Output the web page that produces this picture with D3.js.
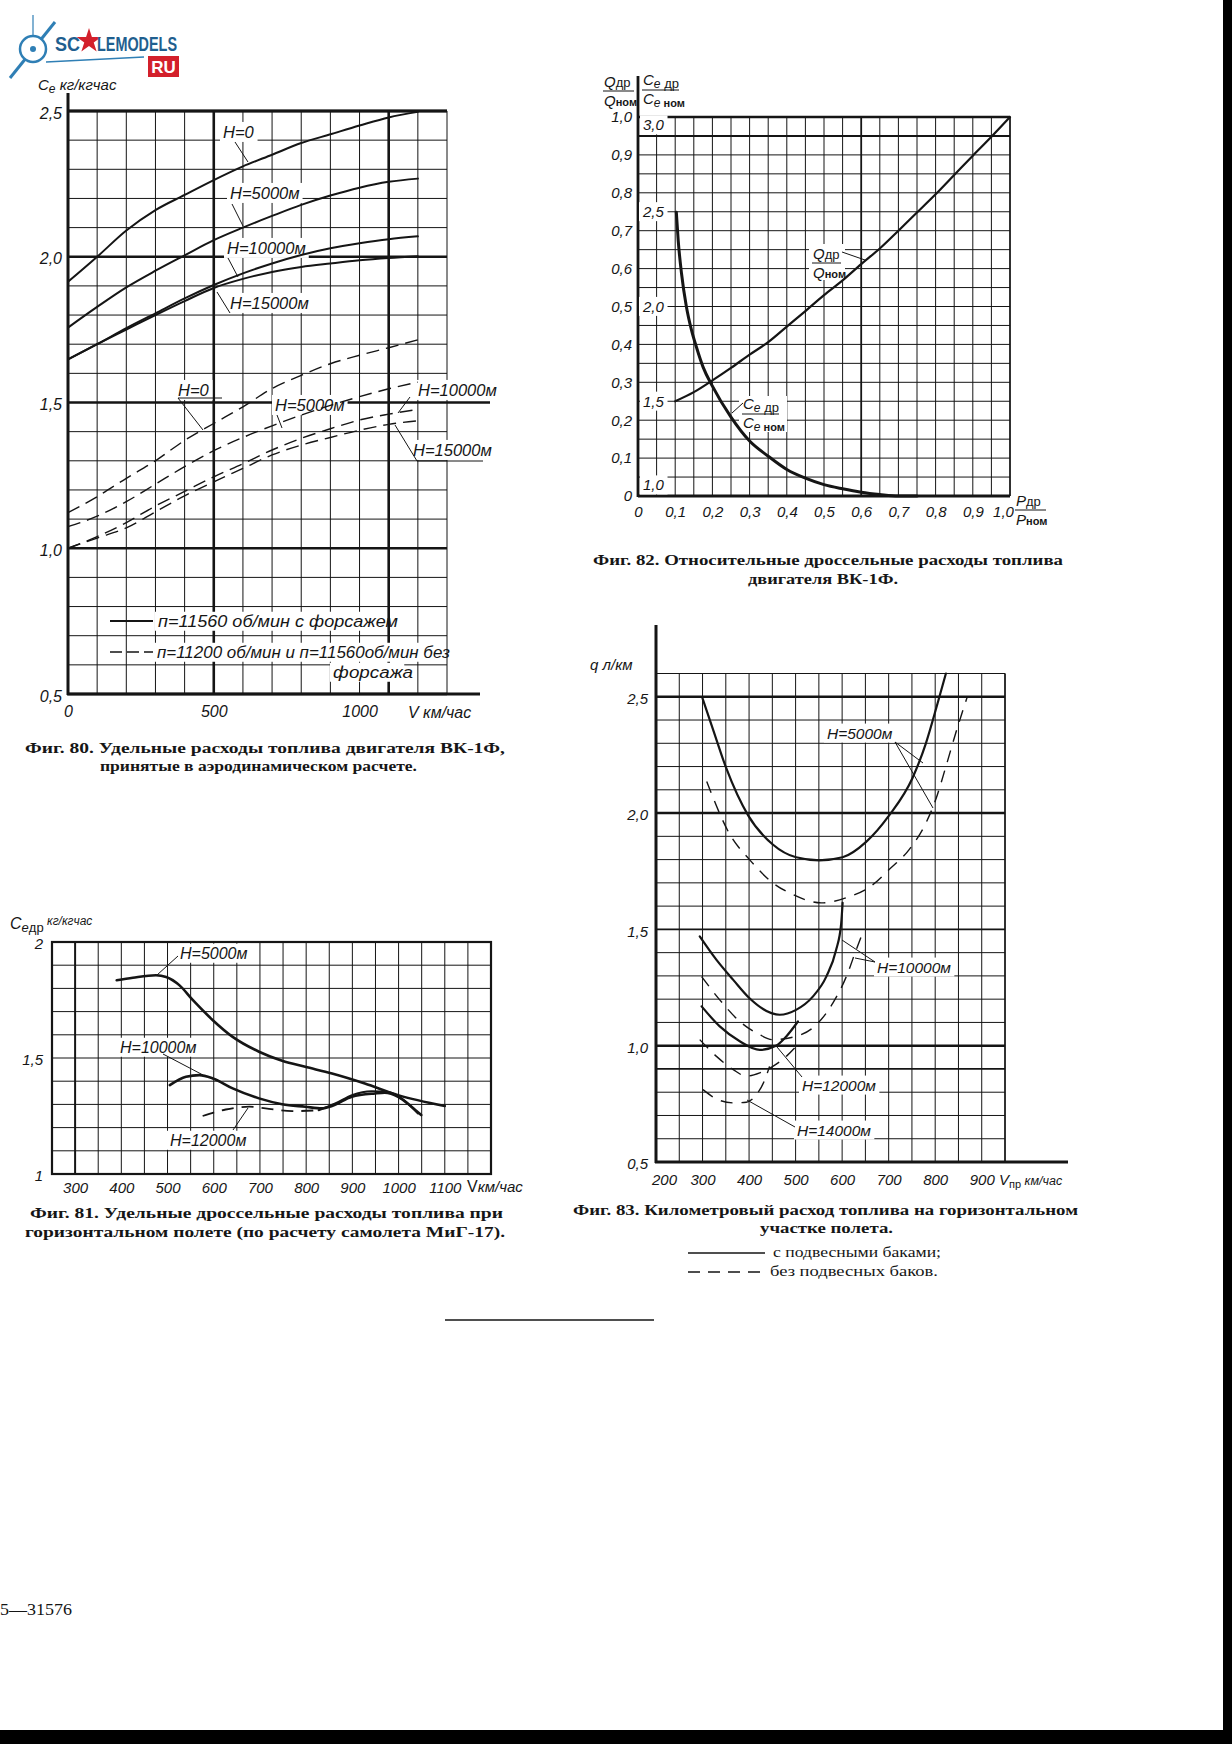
<!DOCTYPE html>
<html lang="ru"><head><meta charset="utf-8">
<script src="https://cdn.jsdelivr.net/npm/d3@7/dist/d3.min.js"></script>
<style>
html,body{margin:0;padding:0;background:#fff;}
svg{display:block;}
.lbl{font-family:"Liberation Sans","DejaVu Sans",Arial,sans-serif;font-style:italic;fill:#161616;}
.up{font-style:normal;}
.cap{font-family:"Liberation Serif","DejaVu Serif",serif;font-weight:bold;fill:#161616;}
</style></head>
<body>
<svg id="page" width="1232" height="1744" viewBox="0 0 1232 1744"></svg>
<script>
// ================= DATA =================
// Fig. 80 — specific fuel consumption vs speed
const f80Speeds      = [0,100,200,300,400,500,600,700,800,900,1000,1100,1200];
const f80SolidH0     = [1.914,2.0,2.09,2.16,2.212,2.263,2.31,2.35,2.39,2.42,2.45,2.478,2.497];
const f80SolidH5000  = [1.757,1.828,1.895,1.952,2.005,2.057,2.1,2.14,2.178,2.21,2.237,2.257,2.268];
const f80SolidH10000 = [1.648,1.70,1.755,1.806,1.857,1.903,1.943,1.977,2.006,2.029,2.046,2.06,2.07];
const f80SolidH15000 = [1.648,1.70,1.75,1.80,1.848,1.893,1.924,1.948,1.965,1.977,1.988,1.996,2.002];
const f80DashH0      = [1.122,1.177,1.24,1.30,1.37,1.428,1.485,1.548,1.593,1.633,1.662,1.688,1.715];
const f80DashH5000   = [1.074,1.11,1.16,1.22,1.28,1.335,1.38,1.42,1.457,1.49,1.52,1.547,1.57];
const f80DashH10000  = [1.0,1.04,1.088,1.145,1.195,1.245,1.29,1.337,1.377,1.41,1.44,1.46,1.476];
const f80DashH15000  = [1.0,1.035,1.07,1.125,1.18,1.228,1.274,1.32,1.354,1.38,1.405,1.425,1.437];
const f80YTicks = [0.5,1.0,1.5,2.0,2.5];
const f80XTicks = [0,500,1000];
const f80Legend = ["п=11560 об/мин  с форсажем","п=11200 об/мин и п=11560об/мин  без","форсажа"];

// Fig. 82 — relative throttle consumption
const f82QRatioX  = [0.1,0.15,0.2,0.25,0.3,0.35,0.4,0.45,0.5,0.55,0.6,0.65,0.7,0.75,0.8,0.85,0.9,0.95,1.0];
const f82QRatio   = [0.25,0.274,0.305,0.338,0.373,0.406,0.447,0.488,0.53,0.569,0.612,0.653,0.7,0.748,0.796,0.847,0.898,0.948,1.0];
const f82CeRatioX = [0.103,0.108,0.117,0.13,0.144,0.157,0.175,0.2,0.25,0.3,0.35,0.4,0.45,0.5,0.55,0.6,0.65,0.7,0.75];
const f82CeRatio  = [2.498,2.35,2.174,2.0,1.874,1.786,1.68,1.58,1.416,1.29,1.21,1.14,1.094,1.06,1.038,1.02,1.008,1.0,1.0];
const f82CeTicks  = [1.0,1.5,2.0,2.5,3.0];

// Fig. 81 — specific throttle consumption in level flight (MiG-17)
const f81H5000X  = [390,425,475,497,526,555,598,641,698,748,798,856,927,999,1100];
const f81H5000   = [1.835,1.846,1.857,1.849,1.813,1.749,1.663,1.591,1.527,1.488,1.462,1.433,1.39,1.34,1.293];
const f81H10000X = [505,540,569,598,641,698,748,798,834,856,899,949,970,999,1028,1049];
const f81H10000  = [1.383,1.419,1.426,1.412,1.369,1.326,1.301,1.29,1.283,1.293,1.333,1.347,1.35,1.333,1.29,1.254];
const f81H12000X = [576,626,677,712,770,827,863,899,942,978,1006,1042];
const f81H12000  = [1.25,1.278,1.29,1.283,1.271,1.275,1.304,1.34,1.357,1.354,1.326,1.261];
const f81XTicks  = [300,400,500,600,700,800,900,1000,1100];
const f81YTicks  = [1,1.5,2];

// Fig. 83 — fuel consumption per km
const f83H5000SolidX  = [300,323,351,398,451,501,551,601,651,701,751,780,805,823];
const f83H5000Solid   = [2.493,2.357,2.193,1.99,1.865,1.81,1.797,1.81,1.875,1.99,2.15,2.3,2.471,2.6];
const f83H5000DashX   = [309,359,401,451,494,555,609,662,701,744,780,801,823,844,869];
const f83H5000Dash    = [2.136,1.907,1.8,1.7,1.65,1.614,1.636,1.686,1.757,1.843,1.957,2.057,2.2,2.343,2.5];
const f83H10000SolidX = [294,330,366,401,448,466,501,537,566,587,598,601];
const f83H10000Solid  = [1.47,1.369,1.283,1.204,1.14,1.133,1.154,1.211,1.297,1.411,1.526,1.614];
const f83H10000DashX  = [298,337,380,423,451,501,548,580,609,630,641];
const f83H10000Dash   = [1.297,1.197,1.104,1.047,1.026,1.04,1.097,1.183,1.297,1.411,1.469];
const f83H12000SolidX = [298,337,380,423,458,480,505];
const f83H12000Solid  = [1.169,1.083,1.019,0.982,1.0,1.04,1.104];
const f83H12000DashX  = [294,330,366,394,423,451,480,501];
const f83H12000Dash   = [1.026,0.954,0.897,0.869,0.883,0.911,0.954,0.997];
const f83H14000DashX  = [301,330,366,394,416,434,444];
const f83H14000Dash   = [0.811,0.771,0.754,0.757,0.79,0.854,0.911];
const f83XTicks = [200,300,400,500,600,700,800,900];
const f83YTicks = [0.5,1.0,1.5,2.0,2.5];

// ================= DRAWING =================
const INK = "#151515";
const svg = d3.select("#page");
svg.append("rect").attr("width",1232).attr("height",1744).attr("fill","#fff");
const c1 = d => d3.format(".1f")(d).replace(".", ",");
const isHalf = d => Math.abs(d*2 - Math.round(d*2)) < 1e-6;

function styleAxis(sel, size) {
  sel.select(".domain").remove();
  sel.attr("font-family", null).attr("font-size", null);
  sel.selectAll("text").attr("class","lbl").style("font-size", size + "px");
}
function hline(g, x1, x2, y, w) {
  g.append("line").attr("x1",x1).attr("x2",x2).attr("y1",y).attr("y2",y).attr("stroke",INK).attr("stroke-width",w);
}
function vline(g, x, y1, y2, w) {
  g.append("line").attr("x1",x).attr("x2",x).attr("y1",y1).attr("y2",y2).attr("stroke",INK).attr("stroke-width",w);
}
function leader(g, pts) {
  g.append("polyline").attr("points", pts.map(p => p.join(",")).join(" "))
   .attr("fill","none").attr("stroke",INK).attr("stroke-width",1);
}
function lbl(g, x, cy, txt, size, bg, anchor) {
  size = size || 16;
  const t = g.append("text").attr("class","lbl").attr("x",x).attr("y",cy + size*0.36)
    .attr("text-anchor", anchor || "start").style("font-size", size + "px").text(txt);
  if (bg !== false) {
    const b = t.node().getBBox();
    g.insert("rect", () => t.node()).attr("x",b.x-3).attr("y",b.y-1).attr("width",b.width+6).attr("height",b.height+2).attr("fill","#fff");
  }
  return t;
}
function curve(g, xs, ys, xS, yS, w, dash) {
  const line = d3.line().x((d,i) => xS(xs[i])).y(d => yS(d)).curve(d3.curveMonotoneX);
  g.append("path").datum(ys).attr("d", line).attr("fill","none").attr("stroke",INK)
    .attr("stroke-width", w).attr("stroke-dasharray", dash || null)
    .attr("stroke-linejoin","round").attr("stroke-linecap", dash ? "butt" : "round");
}
function caption(x, y, txt, len) {
  svg.append("text").attr("class","cap").attr("x",x).attr("y",y).style("font-size","15.5px")
    .attr("textLength",len).attr("lengthAdjust","spacingAndGlyphs").text(txt);
}
// italic C with subscript e, then optional upright part
function ceText(g, x0, y0, size, tail, tailSize) {
  const t = g.append("text").attr("class","lbl").attr("x",x0).attr("y",y0).style("font-size",size+"px");
  t.append("tspan").text("C");
  t.append("tspan").attr("dy",3).style("font-size",(size-3)+"px").text("е");
  t.append("tspan").attr("class","up").style("font-size",tailSize+"px").text(tail);
  return t;
}

// ---------- Logo (watermark) ----------
{
  const g = svg.append("g");
  const blue = "#2f7fb5";
  g.append("line").attr("x1",10).attr("y1",78).attr("x2",55).attr("y2",22).attr("stroke",blue).attr("stroke-width",3);
  g.append("line").attr("x1",33).attr("y1",15).attr("x2",33).attr("y2",36).attr("stroke",blue).attr("stroke-width",1.2);
  g.append("circle").attr("cx",33).attr("cy",49).attr("r",13).attr("fill","#fff").attr("stroke",blue).attr("stroke-width",2.5);
  g.append("circle").attr("cx",33).attr("cy",49).attr("r",3).attr("fill",blue);
  g.append("line").attr("x1",46).attr("y1",62).attr("x2",144).attr("y2",57).attr("stroke",blue).attr("stroke-width",1.5);
  const fam = "'Liberation Sans',Arial,sans-serif";
  g.append("text").attr("x",55).attr("y",51).attr("fill","#1f5f8f").style("font-family",fam)
    .style("font-weight","bold").style("font-size","21px").attr("textLength",25).attr("lengthAdjust","spacingAndGlyphs").text("SC");
  g.append("path").attr("d", d3.symbol(d3.symbolStar, 190)()).attr("transform","translate(89,41)").attr("fill","#d3202b");
  g.append("text").attr("x",97).attr("y",51).attr("fill","#1f5f8f").style("font-family",fam)
    .style("font-weight","bold").style("font-size","21px").attr("textLength",80).attr("lengthAdjust","spacingAndGlyphs").text("LEMODELS");
  g.append("rect").attr("x",148).attr("y",56).attr("width",31).attr("height",21).attr("fill","#d3202b");
  g.append("text").attr("x",163.5).attr("y",73).attr("text-anchor","middle").attr("fill","#fff")
    .style("font-family",fam).style("font-weight","bold").style("font-size","17px").text("RU");
}

// ---------- Fig. 80 ----------
{
  const x = d3.scaleLinear().domain([0,1300]).range([68,447]);
  const y = d3.scaleLinear().domain([0.5,2.5]).range([694,111]);
  const gG = svg.append("g"), gL = svg.append("g"), gC = svg.append("g");
  gG.selectAll(".v").data(x.ticks(13)).join("line").attr("class","v")
    .attr("x1",d=>x(d)).attr("x2",d=>x(d)).attr("y1",y(0.5)).attr("y2",y(2.5))
    .attr("stroke",INK).attr("stroke-width",d => (d===500||d===1100) ? 2.6 : 1);
  gG.selectAll(".h").data(y.ticks(20)).join("line").attr("class","h")
    .attr("x1",x(0)).attr("x2",d => Math.abs(d-1.5)<1e-6 ? 490 : x(1300))
    .attr("y1",d=>y(d)).attr("y2",d=>y(d))
    .attr("stroke",INK).attr("stroke-width",d => isHalf(d) ? 2.4 : 1);
  vline(gG, x(0), y(0.5)+1, 93, 3);
  hline(gG, x(0)-1, 480, y(0.5), 3);
  hline(gG, x(0), x(1300), y(2.5), 3);
  gG.append("g").attr("transform",`translate(${x(0)},2)`)
    .call(d3.axisLeft(y).tickValues(f80YTicks).tickFormat(c1).tickSize(0).tickPadding(6)).call(s=>styleAxis(s,16));
  gG.append("g").attr("transform",`translate(0,${y(0.5)})`)
    .call(d3.axisBottom(x).tickValues(f80XTicks).tickFormat(d3.format("d")).tickSize(0).tickPadding(12)).call(s=>styleAxis(s,16));
  lbl(gL, 408, 712, "V км/час", 16, false);
  // axis title
  const tt = gL.append("text").attr("class","lbl").attr("x",38).attr("y",90).style("font-size","15px");
  tt.append("tspan").text("C"); tt.append("tspan").attr("dy",3).style("font-size","12px").text("e");
  tt.append("tspan").attr("dy",-3).text(" кг/кгчас");
  // legend
  lbl(gL, 158, 621, f80Legend[0], 16).attr("textLength",240).attr("lengthAdjust","spacingAndGlyphs");
  lbl(gL, 157, 652, f80Legend[1], 16).attr("textLength",293).attr("lengthAdjust","spacingAndGlyphs");
  lbl(gL, 333, 672, f80Legend[2], 16).attr("textLength",80).attr("lengthAdjust","spacingAndGlyphs");
  hline(gC, 110, 153, 621, 2);
  gC.append("line").attr("x1",110).attr("x2",153).attr("y1",652).attr("y2",652).attr("stroke",INK).attr("stroke-width",1.4).attr("stroke-dasharray","12,5");
  // curve labels
  const L = [["Н=0",223,132],["Н=5000м",230,193],["Н=10000м",227,248],["Н=15000м",230,303],
             ["Н=0",178,390],["Н=5000м",275,405],["Н=10000м",418,390],["Н=15000м",413,450]];
  L.forEach(l => lbl(gL, l[1], l[2], l[0], 16.5));
  // curves
  curve(gC, f80Speeds, f80SolidH0, x, y, 2);
  curve(gC, f80Speeds, f80SolidH5000, x, y, 2);
  curve(gC, f80Speeds, f80SolidH10000, x, y, 2);
  curve(gC, f80Speeds, f80SolidH15000, x, y, 2);
  curve(gC, f80Speeds, f80DashH0, x, y, 1.4, "13,7");
  curve(gC, f80Speeds, f80DashH5000, x, y, 1.4, "13,7");
  curve(gC, f80Speeds, f80DashH10000, x, y, 1.4, "13,7");
  curve(gC, f80Speeds, f80DashH15000, x, y, 1.4, "13,7");
  // leaders
  leader(gC, [[235,142],[248,162]]);
  leader(gC, [[232,204],[243,226]]);
  leader(gC, [[228,258],[238,277]]);
  leader(gC, [[230,313],[217,292]]);
  leader(gC, [[222,398],[178,398],[203,430]]);
  leader(gC, [[277,415],[282,428]]);
  leader(gC, [[410,397],[398,413]]);
  leader(gC, [[483,461],[417,461],[395,425]]);
  caption(25, 753, "Фиг. 80. Удельные расходы топлива двигателя ВК-1Ф,", 480);
  caption(100, 771, "принятые в аэродинамическом расчете.", 317);
}

// ---------- Fig. 82 ----------
{
  const x = d3.scaleLinear().domain([0,1]).range([638,1010]);
  const y = d3.scaleLinear().domain([0,1]).range([496,117]);
  const yCe = d3.scaleLinear().domain([1,3]).range([496,117]);
  const gG = svg.append("g"), gL = svg.append("g"), gC = svg.append("g");
  gG.selectAll(".v").data(x.ticks(20)).join("line").attr("class","v")
    .attr("x1",d=>x(d)).attr("x2",d=>x(d)).attr("y1",y(0)).attr("y2",y(1))
    .attr("stroke",INK).attr("stroke-width",d => Math.abs(d-0.6)<1e-6 ? 1.8 : 1);
  gG.selectAll(".h").data(y.ticks(20)).join("line").attr("class","h")
    .attr("x1",x(0)).attr("x2",x(1)).attr("y1",d=>y(d)).attr("y2",d=>y(d))
    .attr("stroke",INK).attr("stroke-width",d => Math.abs(d-0.95)<1e-6 ? 2 : 1);
  vline(gG, x(0), y(0)+1, 76, 2.8);
  hline(gG, x(0), x(1), y(0), 2.8);
  hline(gG, x(0), x(1), y(1), 2.6);
  vline(gG, x(1), y(0), y(1), 1.5);
  const f = d => d === 0 ? "0" : c1(d);
  gG.append("g").attr("transform",`translate(${x(0)},0)`)
    .call(d3.axisLeft(y).ticks(10).tickFormat(f).tickSize(0).tickPadding(6)).call(s=>styleAxis(s,15));
  const bx = gG.append("g").attr("transform",`translate(0,${y(0)})`)
    .call(d3.axisBottom(x).ticks(10).tickFormat(f).tickSize(0).tickPadding(10)).call(s=>styleAxis(s,15));
  bx.selectAll(".tick").filter(d => d === 1).select("text").attr("dx", -7);
  // inner Ce scale labels
  f82CeTicks.forEach(v => {
    const off = v === 3 ? 8 : (v === 1 ? -11 : 0);
    lbl(gL, 643, yCe(v) + off, c1(v), 15);
  });
  // header fractions
  function fracQ(g, x0, yTop, letter, w) {
    const t1 = g.append("text").attr("class","lbl").attr("x",x0).attr("y",yTop).style("font-size","15px");
    t1.append("tspan").text(letter); t1.append("tspan").attr("class","up").style("font-size","13px").text("др");
    hline(g, x0-1, x0+w, yTop+4, 1);
    const t2 = g.append("text").attr("class","lbl").attr("x",x0).attr("y",yTop+19).style("font-size","15px");
    t2.append("tspan").text(letter); t2.append("tspan").attr("class","up").style("font-size","11px").style("font-weight","bold").text("ном");
  }
  function fracCe(g, x0, yTop, w) {
    ceText(g, x0, yTop, 15, " др", 13);
    hline(g, x0-1, x0+w, yTop+5, 1);
    ceText(g, x0, yTop+19, 15, " ном", 11).select(".up").style("font-weight","bold");
  }
  fracQ(gL, 604, 87, "Q", 30);
  fracCe(gL, 643, 85, 36);
  // P fraction at x axis end
  fracQ(gL, 1016, 506, "P", 30);
  // curve labels with background
  gL.append("rect").attr("x",809).attr("y",244).attr("width",36).attr("height",36).attr("fill","#fff");
  fracQ(gL, 813, 259, "Q", 28);
  gL.append("rect").attr("x",739).attr("y",396).attr("width",48).attr("height",36).attr("fill","#fff");
  fracCe(gL, 743, 409, 36);
  curve(gC, f82QRatioX, f82QRatio, x, y, 2.2);
  curve(gC, f82CeRatioX, f82CeRatio, x, yCe, 3);
  leader(gC, [[842,252],[865,260]]);
  leader(gC, [[743,403],[732,413]]);
  caption(593, 565, "Фиг. 82. Относительные дроссельные расходы топлива", 470);
  caption(748, 584, "двигателя ВК-1Ф.", 150);
}

// ---------- Fig. 81 ----------
{
  const x = d3.scaleLinear().domain([250,1200]).range([52,491]);
  const y = d3.scaleLinear().domain([1,2]).range([1174,942]);
  const gG = svg.append("g"), gL = svg.append("g"), gC = svg.append("g");
  gG.selectAll(".v").data(x.ticks(19)).join("line").attr("class","v")
    .attr("x1",d=>x(d)).attr("x2",d=>x(d)).attr("y1",y(1)).attr("y2",y(2))
    .attr("stroke",INK).attr("stroke-width",d => d===300 ? 2 : 1);
  gG.selectAll(".h").data(y.ticks(10)).join("line").attr("class","h")
    .attr("x1",x(250)).attr("x2",x(1200)).attr("y1",d=>y(d)).attr("y2",d=>y(d))
    .attr("stroke",INK).attr("stroke-width",1);
  gG.append("rect").attr("x",x(250)).attr("y",y(2)).attr("width",x(1200)-x(250)).attr("height",y(1)-y(2))
    .attr("fill","none").attr("stroke",INK).attr("stroke-width",2.2);
  gG.append("g").attr("transform",`translate(${x(250)},2)`)
    .call(d3.axisLeft(y).tickValues(f81YTicks).tickFormat(d => d3.format("~g")(d).replace(".",",")).tickSize(0).tickPadding(9)).call(s=>styleAxis(s,15));
  gG.append("g").attr("transform",`translate(0,${y(1)})`)
    .call(d3.axisBottom(x).tickValues(f81XTicks).tickFormat(d3.format("d")).tickSize(0).tickPadding(8)).call(s=>styleAxis(s,15));
  const vt = gL.append("text").attr("class","lbl").attr("x",467).attr("y",1192).style("font-size","15px");
  vt.append("tspan").attr("class","up").style("font-size","16px").text("V"); vt.append("tspan").text("км/час");
  const tt = gL.append("text").attr("class","lbl").attr("x",10).attr("y",929).style("font-size","16px");
  tt.append("tspan").text("C"); tt.append("tspan").attr("dy",3).style("font-size","13px").text("е");
  tt.append("tspan").attr("class","up").style("font-size","13px").text("др");
  tt.append("tspan").attr("dy",-7).style("font-size","12px").text(" кг/кгчас");
  lbl(gL, 180, 953, "Н=5000м", 16);
  lbl(gL, 120, 1047, "Н=10000м", 16);
  lbl(gL, 170, 1140, "Н=12000м", 16);
  curve(gC, f81H5000X, f81H5000, x, y, 2.6);
  curve(gC, f81H10000X, f81H10000, x, y, 2.6);
  curve(gC, f81H12000X.slice(0,6), f81H12000.slice(0,6), x, y, 1.8, "12,8");
  curve(gC, f81H12000X.slice(5), f81H12000.slice(5), x, y, 2);
  leader(gC, [[178,956],[157,975]]);
  leader(gC, [[163,1054],[203,1075]]);
  leader(gC, [[233,1130],[248,1108]]);
  caption(30, 1218, "Фиг. 81. Удельные дроссельные расходы  топлива при", 473);
  caption(25, 1237, "горизонтальном полете (по расчету самолета МиГ-17).", 480);
}

// ---------- Fig. 83 ----------
{
  const x = d3.scaleLinear().domain([200,950]).range([656,1005]);
  const y = d3.scaleLinear().domain([0.5,2.6]).range([1162,673.5]);
  const gG = svg.append("g"), gL = svg.append("g"), gC = svg.append("g");
  gG.selectAll(".v").data(x.ticks(15)).join("line").attr("class","v")
    .attr("x1",d=>x(d)).attr("x2",d=>x(d)).attr("y1",y(0.5)).attr("y2",y(2.6))
    .attr("stroke",INK).attr("stroke-width",1);
  gG.selectAll(".h").data(y.ticks(21)).join("line").attr("class","h")
    .attr("x1",x(200)).attr("x2",x(950)).attr("y1",d=>y(d)).attr("y2",d=>y(d))
    .attr("stroke",INK).attr("stroke-width",d => {
      const k = Math.round(d*10);
      return (k===25||k===20||k===10) ? 2.4 : (k===15||k===9) ? 1.8 : 1; });
  vline(gG, x(200), y(0.5)+1, 625, 3);
  hline(gG, x(200)-1, 1068, y(0.5), 3);
  vline(gG, x(950), y(0.5), y(2.6), 1.5);
  gG.append("g").attr("transform",`translate(${x(200)},2)`)
    .call(d3.axisLeft(y).tickValues(f83YTicks).tickFormat(c1).tickSize(0).tickPadding(8)).call(s=>styleAxis(s,15));
  const ax = gG.append("g").attr("transform",`translate(0,${y(0.5)})`)
    .call(d3.axisBottom(x).tickValues(f83XTicks).tickFormat(d3.format("d")).tickSize(0).tickPadding(12)).call(s=>styleAxis(s,15));
  ax.selectAll(".tick").filter(d => d === 200).select("text").attr("dx", 8);
  const vt = gL.append("text").attr("class","lbl").attr("x",999).attr("y",1185).style("font-size","15px");
  vt.append("tspan").text("V"); vt.append("tspan").attr("class","up").attr("dy",3).style("font-size","11px").text("пр");
  vt.append("tspan").attr("dy",-3).style("font-size","12.5px").text(" км/час");
  lbl(gL, 590, 665, "q л/км", 15, false);
  lbl(gL, 827, 733, "Н=5000м", 15.5);
  lbl(gL, 877, 967, "Н=10000м", 15.5);
  lbl(gL, 802, 1085, "Н=12000м", 15.5);
  lbl(gL, 797, 1130, "Н=14000м", 15.5);
  curve(gC, f83H5000SolidX, f83H5000Solid, x, y, 2.2);
  curve(gC, f83H5000DashX, f83H5000Dash, x, y, 1.4, "12,9");
  curve(gC, f83H10000SolidX, f83H10000Solid, x, y, 2.2);
  curve(gC, f83H10000DashX, f83H10000Dash, x, y, 1.4, "12,9");
  curve(gC, f83H12000SolidX, f83H12000Solid, x, y, 2.2);
  curve(gC, f83H12000DashX, f83H12000Dash, x, y, 1.4, "12,9");
  curve(gC, f83H14000DashX, f83H14000Dash, x, y, 1.4, "12,9");
  leader(gC, [[923,763],[895,742],[933,808]]);
  leader(gC, [[842,940],[875,962],[855,958]]);
  leader(gC, [[802,1077],[777,1047]]);
  leader(gC, [[795,1127],[747,1100]]);
  caption(573, 1215, "Фиг. 83. Километровый расход топлива на горизонтальном", 505);
  caption(760, 1233, "участке полета.", 133);
  // legend
  hline(gC, 688, 765, 1253, 1.4);
  svg.append("text").attr("class","cap").style("font-weight","normal").style("font-size","15.5px")
    .attr("x",773).attr("y",1257).attr("textLength",168).attr("lengthAdjust","spacingAndGlyphs").text("с подвесными баками;");
  gC.append("line").attr("x1",688).attr("x2",768).attr("y1",1272).attr("y2",1272).attr("stroke",INK).attr("stroke-width",1.6).attr("stroke-dasharray","12,8");
  svg.append("text").attr("class","cap").style("font-weight","normal").style("font-size","15.5px")
    .attr("x",770).attr("y",1276).attr("textLength",168).attr("lengthAdjust","spacingAndGlyphs").text("без  подвесных баков.");
}

// ---------- page furniture ----------
hline(svg, 445, 654, 1320, 1.5);
svg.append("text").attr("x",0).attr("y",1615).style("font-family","'Liberation Serif',serif").style("font-size","17px")
  .attr("fill",INK).attr("textLength",72).attr("lengthAdjust","spacingAndGlyphs").text("5—31576");
svg.append("rect").attr("x",1223).attr("y",0).attr("width",9).attr("height",1744).attr("fill","#000");
svg.append("rect").attr("x",0).attr("y",1730).attr("width",1232).attr("height",14).attr("fill","#000");
</script>
</body></html>
